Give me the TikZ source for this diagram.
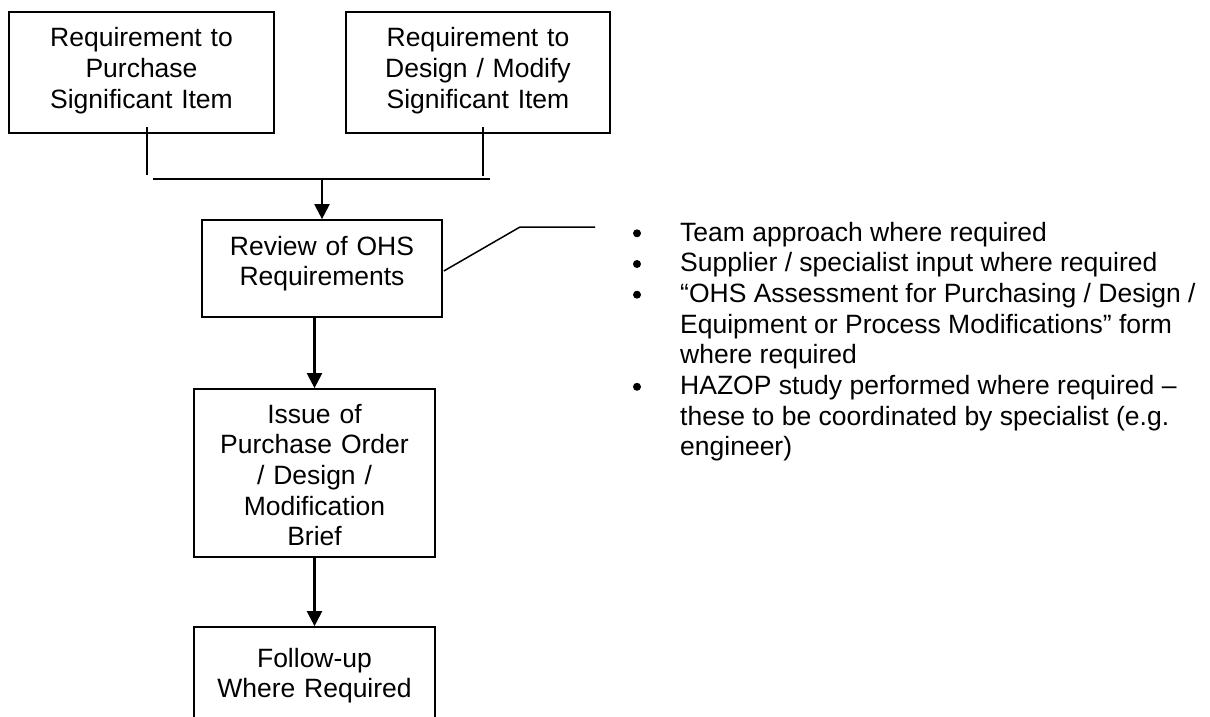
\documentclass[tikz,border=0pt]{standalone}
\usepackage{fontspec}
\setmainfont{Liberation Sans}
\usetikzlibrary{arrows.meta,calc}
\begin{document}
\begin{tikzpicture}[x=1pt,y=-1pt,
  box/.style={draw,line width=1.7pt,rectangle,inner sep=0pt},
  txt/.style={align=center,anchor=base,inner sep=0pt,text width=255pt,font=\fontsize{26.5}{30.7}\selectfont},
  conn/.style={line width=1.8pt},
  arr/.style={line width=2.2pt,-{Triangle[length=15pt,width=15pt]}},
  bul/.style={fill=black}]
\clip (0,0) rectangle (1210,717);
\fill[white] (0,0) rectangle (1210,717);
% boxes
\node[box,minimum width=265pt,minimum height=121pt] (b1) at (141.5,72.5) {};
\node[box,minimum width=264pt,minimum height=121pt] (b2) at (478,72.5) {};
\node[box,minimum width=240pt,minimum height=97pt] (rev) at (322,268.5) {};
\node[box,minimum width=241pt,minimum height=168pt] (iss) at (314.5,473) {};
\node[box,minimum width=241pt,minimum height=120pt] (fol) at (314.5,687) {};
% texts
\node[txt] (t1) at (141.5,47) {Requirement to\\Purchase\\Significant Item};
\node[txt] (t2) at (478,47) {Requirement to\\Design / Modify\\Significant Item};
\node[txt] (t3) at (322,255) {Review of OHS\\Requirements};
\node[txt] (t4) at (314.5,423) {Issue of\\Purchase Order\\/ Design /\\Modification\\Brief};
\node[txt] (t5) at (314.5,667) {Follow-up\\Where Required};
% bullet list
\node[anchor=base west,inner sep=0pt,font=\fontsize{26.5}{30.7}\selectfont] (bl) at (680,241) {%
\begin{tabular}[t]{@{}l@{}}
Team approach where required\\
Supplier / specialist input where required\\
“OHS Assessment for Purchasing / Design /\\
Equipment or Process Modifications” form\\
where required\\
HAZOP study performed where required –\\
these to be coordinated by specialist (e.g.\\
engineer)
\end{tabular}};
\fill[bul] (637,233.3) circle (4pt);
\fill[bul] (637,264.0) circle (4pt);
\fill[bul] (637,294.7) circle (4pt);
\fill[bul] (637,386.8) circle (4pt);
% connector coordinates
\coordinate (v1a) at (147,127);
\coordinate (v1b) at (147,175);
\coordinate (v2a) at (483,127);
\coordinate (v2b) at (483,176);
\coordinate (hl) at (153,179);
\coordinate (hr) at (490,179);
\coordinate (hj) at (322,179);
\coordinate (k1) at (520,227);
\coordinate (k2) at (595,227);
% connectors
\draw[conn] (v1a) -- (v1b);
\draw[conn] (v2a) -- (v2b);
\draw[conn] (hl) -- (hr);
\draw[arr] (hj) -- (rev.north);
\draw[arr] (rev.south -| iss.north) -- (iss.north);
\draw[arr] (iss.south) -- (fol.north);
\draw[conn,line width=1.5pt] ($(rev.east)+(1,2.5)$) -- (k1) -- (k2);
\end{tikzpicture}
\end{document}
